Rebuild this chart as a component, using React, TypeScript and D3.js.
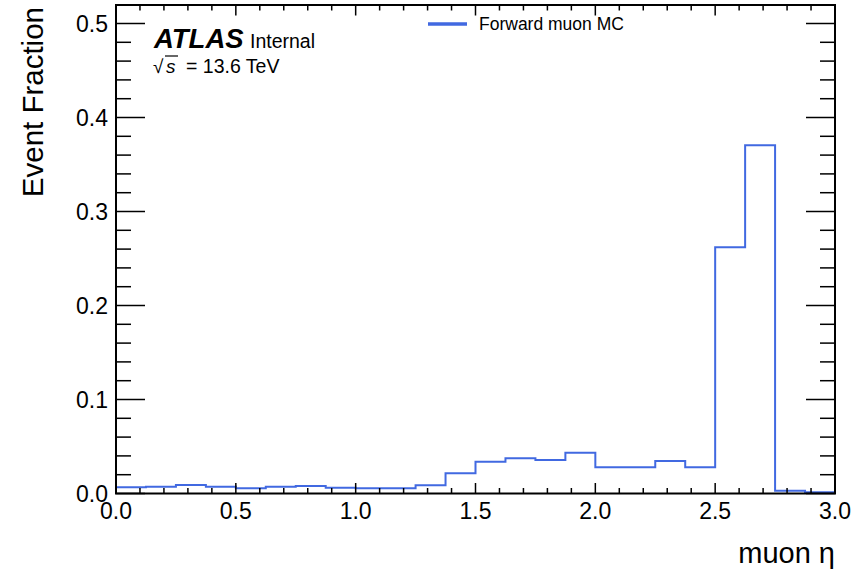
import React from "react";
import * as d3 from "d3";

const binEdges = [0, 0.125, 0.25, 0.375, 0.5, 0.625, 0.75, 0.875, 1.0, 1.125, 1.25, 1.375, 1.5, 1.625, 1.75, 1.875, 2.0, 2.125, 2.25, 2.375, 2.5, 2.625, 2.75, 2.875, 3.0];
const binValues = [0.0066, 0.0072, 0.009, 0.0072, 0.0055, 0.0072, 0.008, 0.0062, 0.0055, 0.0055, 0.0087, 0.0215, 0.0338, 0.0374, 0.0356, 0.0434, 0.0279, 0.0279, 0.0346, 0.0279, 0.262, 0.3704, 0.003, 0.0013];
const xMajorTicks = [0, 0.5, 1.0, 1.5, 2.0, 2.5, 3.0];
const yMajorTicks = [0, 0.1, 0.2, 0.3, 0.4, 0.5];
const seriesLabel = "Forward muon MC";

const W = 858, H = 577;
const L = 116, R = 835, T = 5, B = 493.5;
const FONT = "'Liberation Sans', Arial, Helvetica, sans-serif";
const BLUE = "#4169e1";

export default function App() {
  const x = d3.scaleLinear().domain([0, 3]).range([L, R]);
  const y = d3.scaleLinear().domain([0, 0.1]).range([B, B - 94]);
  const yMax = y.invert(T);

  const xMinor = d3.range(0, 30.001, 1).map((i) => i / 10);
  const yMinor = d3.range(0, Math.floor(yMax * 50 + 1e-6) + 1).map((i) => i / 50);

  const pts: [number, number][] = [];
  binValues.forEach((v, i) => {
    pts.push([binEdges[i], v]);
    pts.push([binEdges[i + 1], v]);
  });
  const line = d3.line<[number, number]>().x((d) => x(d[0])).y((d) => y(d[1]));

  const isMajorX = (v: number) => xMajorTicks.some((m) => Math.abs(m - v) < 1e-6);
  const isMajorY = (v: number) => yMajorTicks.some((m) => Math.abs(m - v) < 1e-6);

  return (
    <svg width={W} height={H} style={{ position: "absolute", left: 0, top: 0, background: "#fff" }} fontFamily={FONT}>
      <rect x={0} y={0} width={W} height={H} fill="#fff" />
      <path d={line(pts) || ""} fill="none" stroke={BLUE} strokeWidth={2} />
      {/* frame */}
      <rect x={L} y={T} width={R - L} height={B - T} fill="none" stroke="#000" strokeWidth={2} />
      {/* x ticks */}
      {xMinor.map((v, i) => {
        const len = isMajorX(v) ? 10.5 : 5.5;
        return (
          <g key={"xt" + i}>
            <line x1={x(v)} x2={x(v)} y1={B} y2={B - len} stroke="#000" strokeWidth={1.5} />
            <line x1={x(v)} x2={x(v)} y1={T} y2={T + len} stroke="#000" strokeWidth={1.5} />
          </g>
        );
      })}
      {/* y ticks */}
      {yMinor.map((v, i) => {
        const len = isMajorY(v) ? 29 : 15;
        return (
          <g key={"yt" + i}>
            <line x1={L} x2={L + len} y1={y(v)} y2={y(v)} stroke="#000" strokeWidth={1.5} />
            <line x1={R} x2={R - len} y1={y(v)} y2={y(v)} stroke="#000" strokeWidth={1.5} />
          </g>
        );
      })}
      {xMajorTicks.map((v) => (
        <text key={"xl" + v} x={x(v)} y={519} textAnchor="middle" fontSize={23} fill="#000">
          {v.toFixed(1)}
        </text>
      ))}
      {yMajorTicks.map((v) => (
        <text key={"yl" + v} x={108} y={y(v) + 8} textAnchor="end" fontSize={23} fill="#000">
          {v.toFixed(1)}
        </text>
      ))}
      {/* axis titles */}
      <text x={835} y={563} textAnchor="end" fontSize={29} fill="#000">muon η</text>
      <text transform={`translate(43,${T + 2}) rotate(-90)`} textAnchor="end" fontSize={29.5} fill="#000">
        Event Fraction
      </text>
      {/* ATLAS label */}
      <text x={154} y={48} fontSize={27.5} fontWeight="bold" fontStyle="italic" fill="#000">ATLAS</text>
      <text x={250} y={48} fontSize={19.5} fill="#000">Internal</text>
      <text x={153} y={73} fontSize={19} fill="#000">√</text>
      <text x={166} y={73} fontSize={19} fontStyle="italic" fill="#000">s</text>
      <line x1={165} x2={178} y1={56} y2={56} stroke="#000" strokeWidth={1.2} />
      <text x={186} y={73} fontSize={19.5} fill="#000">= 13.6 TeV</text>
      {/* legend */}
      <line x1={428} x2={467} y1={24} y2={24} stroke={BLUE} strokeWidth={3.5} />
      <text x={479} y={30} fontSize={17.5} fill="#000">{seriesLabel}</text>
    </svg>
  );
}
